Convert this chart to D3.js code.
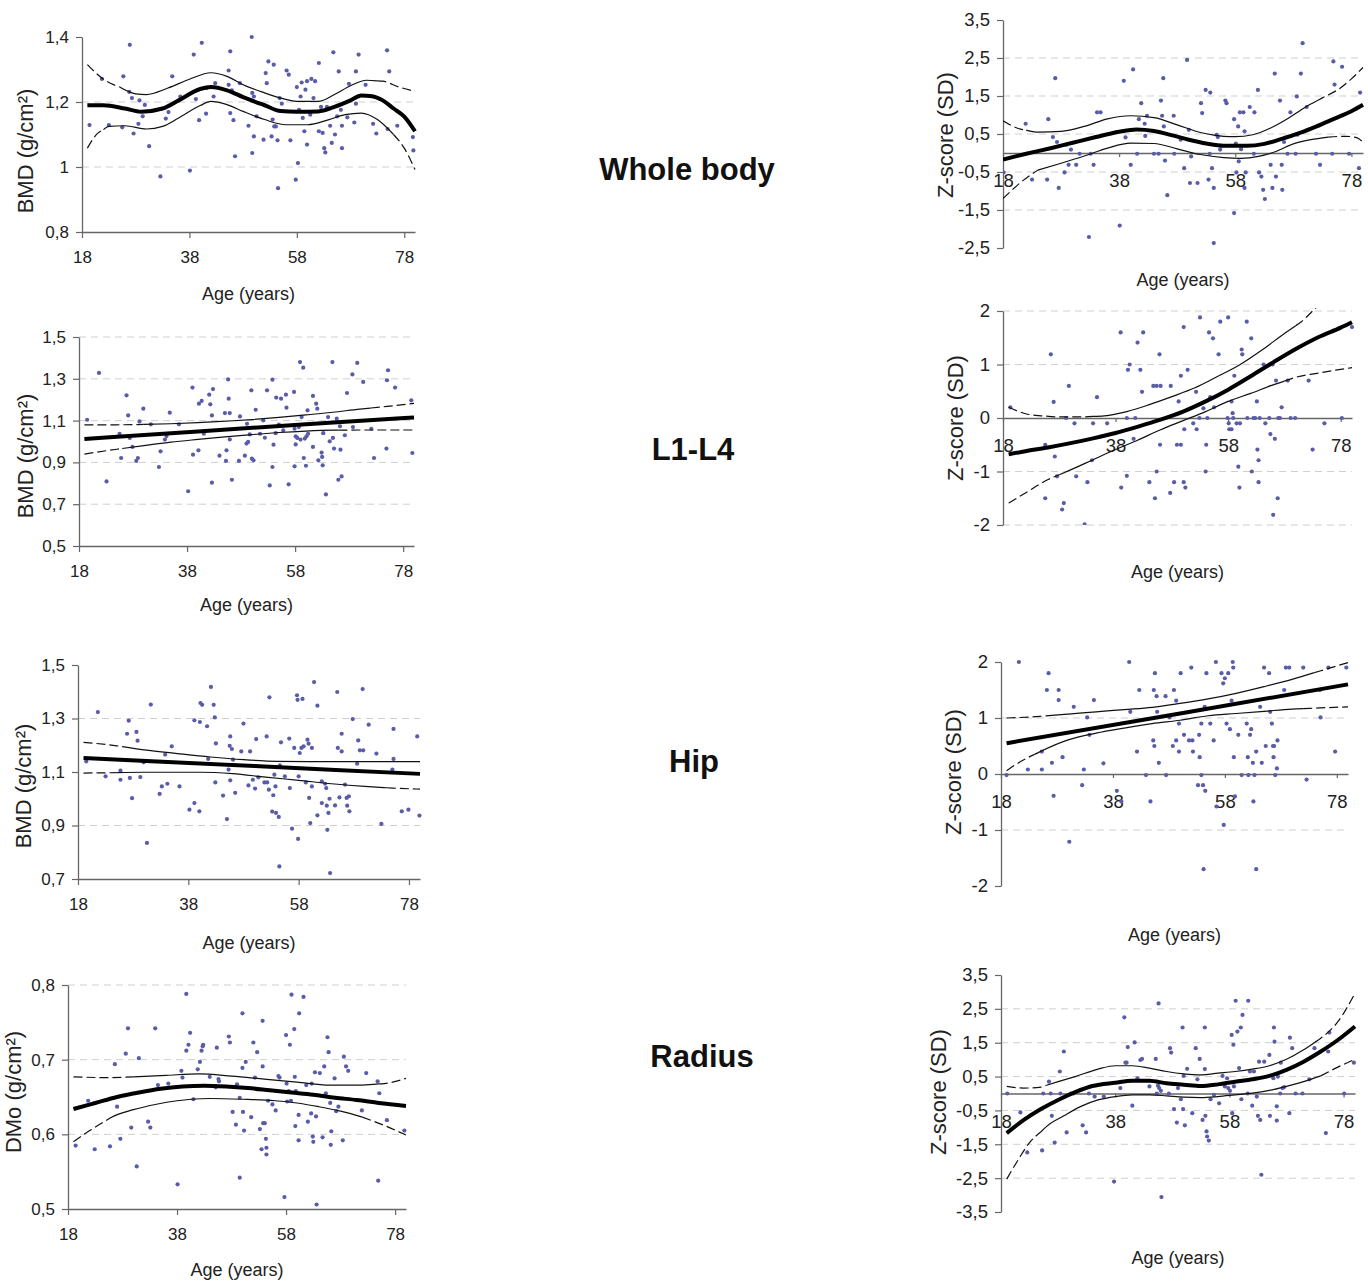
<!DOCTYPE html>
<html>
<head>
<meta charset="utf-8">
<script src="https://cdn.jsdelivr.net/npm/d3@7"></script>
<style>
  body { margin: 0; background: #fff; }
  svg { display: block; font-family: "Liberation Sans", Arial, sans-serif; }
</style>
</head>
<body>
<svg id="chart" width="1368" height="1283"></svg>
<script>
// ---- values: [age, value] ----
const ageTicks = [18, 38, 58, 78];
const sections = ["Whole body", "L1-L4", "Hip", "Radius"];

const wbBmdPoints = [[19.4,1.129],[21.7,1.271],[23.0,1.129],[25.7,1.279],[25.5,1.122],[26.9,1.376],[26.8,1.231],[27.3,1.212],[27.6,1.103],[28.7,1.205],[28.5,1.133],[29.3,1.156],[29.7,1.191],[30.5,1.064],[32.6,0.971],[33.6,1.149],[34.1,1.169],[34.8,1.279],[36.3,1.217],[38.1,0.989],[38.8,1.346],[39.2,1.209],[39.8,1.144],[40.3,1.382],[41.1,1.164],[41.2,1.243],[42.5,1.217],[42.8,1.258],[45.3,1.297],[45.6,1.356],[45.3,1.253],[45.6,1.166],[45.9,1.236],[46.2,1.144],[46.5,1.033],[47.4,1.258],[49.0,1.127],[49.6,1.4],[49.7,1.228],[50.0,1.217],[50.0,1.094],[49.7,1.043],[50.5,1.156],[51.8,1.084],[52.2,1.289],[52.4,1.258],[52.7,1.325],[53.3,1.094],[53.7,1.315],[53.5,1.146],[53.8,1.125],[54.1,1.125],[54.4,1.082],[54.5,0.935],[54.8,1.212],[55.2,1.195],[56.1,1.297],[56.5,1.284],[56.8,1.082],[57.8,0.961],[58.2,1.012],[58.0,1.246],[58.4,1.176],[58.7,1.217],[58.9,1.26],[59.1,1.151],[59.4,1.11],[59.6,1.238],[59.9,1.264],[59.9,1.069],[60.5,1.161],[60.7,1.271],[61.1,1.212],[61.4,1.264],[62.1,1.32],[62.1,1.11],[62.5,1.185],[62.8,1.105],[63.1,1.058],[63.3,1.045],[63.6,1.185],[64.2,1.127],[64.5,1.074],[64.8,1.353],[65.1,1.1],[65.5,1.156],[65.8,1.294],[66.2,1.176],[66.4,1.127],[66.4,1.058],[67.4,1.153],[67.7,1.256],[68.7,1.137],[69.0,1.294],[69.0,1.195],[69.5,1.346],[70.8,1.253],[72.2,1.133],[72.8,1.103],[74.8,1.359],[75.2,1.294],[74.9,1.117],[76.7,1.127],[79.6,1.092],[79.7,1.051]];
const wbBmdMean = [[19,1.19],[22,1.19],[26,1.18],[29,1.17],[33,1.18],[36,1.205],[40,1.24],[42,1.246],[45,1.236],[48,1.215],[52,1.19],[55,1.172],[58,1.17],[62,1.171],[65,1.185],[68,1.205],[70,1.22],[72,1.218],[74,1.205],[76,1.18],[78,1.155],[80,1.11]];
const wbBmdUpper = [[19,1.315],[22,1.27],[25,1.246],[28,1.225],[30,1.223],[34,1.243],[38,1.27],[42,1.29],[45,1.279],[48,1.253],[52,1.228],[55,1.212],[58,1.202],[62,1.202],[65,1.223],[68,1.25],[71,1.267],[74,1.264],[77,1.246],[80,1.233]];
const wbBmdLower = [[19,1.058],[21,1.105],[23,1.125],[26,1.127],[30,1.117],[33,1.125],[36,1.151],[40,1.189],[42,1.202],[45,1.192],[48,1.171],[52,1.146],[56,1.13],[60,1.13],[64,1.146],[67,1.161],[70,1.166],[73,1.146],[76,1.1],[78,1.058],[80,0.992]];

const wbZPoints = [[18.1,-0.51],[21.9,0.77],[23.0,-0.7],[25.6,-0.7],[25.8,0.89],[26.6,0.42],[27.0,1.97],[27.3,0.29],[27.6,-0.92],[28.6,-0.51],[28.9,0.22],[29.3,-0.31],[29.7,0.09],[30.6,-0.31],[31.2,-0.02],[32.8,-2.21],[33.1,-0.02],[33.6,-0.31],[34.2,1.07],[34.8,1.07],[38.1,-1.91],[38.8,1.9],[39.1,0.41],[40.0,-0.31],[40.4,2.2],[41.1,-0.02],[41.4,0.89],[41.8,1.31],[42.4,0.77],[42.5,0.45],[42.8,0.98],[44.0,-0.02],[44.8,-0.02],[45.2,1.38],[45.4,0.98],[45.6,1.97],[45.7,0.7],[45.9,-0.2],[46.3,-1.11],[47.4,0.98],[47.5,-0.02],[48.6,0.35],[49.2,-0.4],[49.7,2.45],[50.0,0.61],[50.2,-0.79],[50.4,-0.09],[51.5,-0.79],[52.1,1.31],[52.3,1.05],[52.9,1.66],[53.4,-0.7],[53.6,-0.02],[53.7,1.59],[54.0,-0.4],[54.3,-0.92],[54.3,-2.37],[54.8,0.48],[55.0,0.42],[55.4,0.09],[56.3,1.38],[56.5,1.31],[57.8,0.89],[57.8,-1.58],[58.1,0.25],[58.2,-0.51],[58.5,0.7],[58.6,-0.22],[58.8,1.07],[59.0,0.1],[59.4,1.07],[59.6,0.57],[59.6,-0.92],[59.8,-0.51],[60.5,1.21],[61.2,-0.02],[61.3,1.07],[61.9,1.66],[62.1,-0.51],[62.5,-0.62],[62.8,-0.97],[63.1,-1.21],[64.1,-0.31],[64.4,-0.92],[64.8,2.09],[65.0,-0.62],[65.7,1.38],[66.0,-0.31],[66.1,-0.97],[66.4,0.29],[67.0,-0.02],[67.5,1.07],[68.4,-0.02],[68.6,1.49],[68.7,0.48],[69.3,2.09],[69.6,2.89],[70.3,1.21],[71.9,-0.02],[72.6,-0.31],[74.7,-0.02],[74.9,2.41],[75.1,1.8],[76.4,2.27],[77.6,-0.02],[79.5,1.59],[79.3,-0.4]];
const wbZMean = [[18,-0.17],[22,-0.02],[26,0.12],[30,0.27],[34,0.42],[38,0.56],[41,0.62],[44,0.58],[47,0.47],[50,0.35],[53,0.25],[56,0.19],[60,0.19],[63,0.24],[66,0.37],[69,0.52],[72,0.7],[75,0.9],[78,1.1],[80,1.27]];
const wbZUpper = [[18,0.85],[21,0.63],[24,0.55],[28,0.57],[32,0.7],[36,0.9],[40,0.98],[44,0.93],[48,0.74],[52,0.54],[56,0.44],[58,0.43],[61,0.48],[64,0.65],[67,0.9],[70,1.2],[73,1.45],[76,1.7],[78,1.95],[80,2.25]];
const wbZLower = [[18,-1.2],[21,-0.78],[24,-0.45],[28,-0.27],[32,-0.08],[36,0.13],[40,0.26],[44,0.25],[48,0.11],[52,-0.04],[56,-0.12],[59,-0.14],[62,-0.09],[65,0.04],[68,0.24],[71,0.35],[74,0.42],[77,0.44],[79,0.4],[80,0.28]];

const spBmdPoints = [[19.5,1.104],[21.7,1.328],[23.1,0.809],[25.5,1.037],[25.8,0.921],[26.8,1.221],[27.1,1.125],[27.4,1.017],[27.9,0.974],[28.6,0.907],[28.9,0.921],[29.2,1.096],[29.9,1.157],[31.3,1.082],[32.8,0.878],[33.1,0.953],[33.9,1.009],[34.2,1.026],[34.8,1.138],[36.5,1.082],[38.2,0.762],[39.0,1.258],[39.1,0.937],[40.2,1.181],[40.7,1.194],[40.1,0.958],[41.1,1.037],[42.1,1.224],[42.3,1.178],[42.6,1.125],[42.8,1.251],[42.6,0.803],[44.0,0.932],[45.0,1.136],[45.2,0.907],[45.3,0.958],[45.6,1.297],[45.7,1.205],[45.9,1.136],[45.9,1.01],[46.3,0.817],[47.6,0.907],[47.8,1.12],[48.7,0.932],[49.0,0.99],[49.3,0.998],[49.1,1.085],[49.6,1.034],[49.9,1.245],[50.0,0.918],[50.3,0.91],[50.7,1.152],[51.5,1.037],[52.1,1.101],[52.4,1.018],[52.8,1.245],[53.3,0.79],[53.8,1.296],[53.8,0.878],[54.0,0.985],[54.4,1.04],[54.5,1.21],[55.0,1.081],[55.4,1.205],[55.8,1.053],[56.3,1.224],[56.4,1.162],[56.8,0.795],[57.8,1.237],[57.9,0.881],[57.9,1.061],[58.1,1.025],[58.1,0.986],[58.4,1.017],[58.7,1.069],[58.9,1.38],[59.0,1.009],[59.2,1.117],[59.5,1.353],[59.6,0.921],[59.8,1.014],[60.0,0.884],[60.1,1.025],[60.3,1.149],[60.4,1.037],[61.3,0.974],[61.3,1.218],[61.9,1.181],[62.1,1.157],[62.3,0.91],[62.9,0.947],[63.0,0.926],[63.1,0.886],[63.2,1.04],[63.7,0.747],[64.1,1.117],[64.4,1.001],[64.9,1.38],[65.0,1.017],[65.2,0.966],[65.7,1.109],[66.0,0.817],[66.3,1.073],[66.4,0.961],[66.6,0.833],[67.2,1.03],[67.6,1.232],[68.6,1.321],[68.7,1.069],[69.5,1.376],[70.6,1.285],[72.1,1.061],[72.6,0.921],[74.9,0.966],[75.0,1.293],[75.2,1.341],[76.5,1.258],[79.5,1.197],[79.7,0.945]];
const spBmdMean = [[19,1.012],[40,1.048],[60,1.083],[80,1.115]];
const spBmdUpper = [[19,1.08],[25,1.08],[30,1.082],[35,1.085],[40,1.09],[45,1.097],[50,1.105],[55,1.115],[60,1.127],[65,1.14],[70,1.155],[75,1.168],[80,1.182]];
const spBmdLower = [[19,0.94],[25,0.963],[30,0.98],[35,0.997],[40,1.01],[45,1.022],[50,1.033],[55,1.043],[60,1.05],[65,1.054],[70,1.055],[75,1.055],[80,1.055]];

const spZPoints = [[19.3,0.2],[25.5,-0.5],[25.5,-1.5],[26.5,1.19],[27.0,0.3],[27.2,-0.72],[27.6,-1.09],[28.5,-1.71],[28.8,-1.59],[29.2,0],[29.7,0.6],[30.7,-0.1],[31.0,-1.09],[32.5,-1.99],[33.0,-1.2],[33.8,-0.79],[34.0,-0.1],[34.7,0.39],[36.5,-0.1],[38.9,1.6],[39.0,-1.3],[40.0,0],[40.0,-1.08],[40.2,0.9],[40.5,1.0],[41.2,-0.39],[41.5,0],[41.9,1.41],[42.4,0.9],[42.7,0.49],[42.9,1.6],[44.0,-1.2],[44.7,0.6],[45.0,-1.5],[45.3,-1.0],[45.3,0.6],[45.8,1.19],[45.9,-0.5],[46.0,0.6],[47.7,-1.4],[47.8,0.6],[48.4,-1.2],[48.9,-0.5],[49.2,0.31],[49.6,-0.5],[49.6,0.79],[50.1,1.7],[50.1,-1.2],[50.4,-1.3],[50.2,-0.21],[50.8,0.9],[51.8,-0.1],[52.3,0.49],[52.4,-0.21],[52.9,0],[53.0,1.88],[53.6,0.18],[54.0,-1.0],[54.1,-0.5],[54.3,0],[54.6,1.6],[54.8,0.39],[55.3,1.49],[55.5,0.2],[56.3,1.19],[56.6,1.8],[57.9,0],[58.0,1.88],[58.1,-0.1],[58.2,-0.21],[58.6,-0.21],[58.6,0.31],[58.8,0.09],[58.9,0],[59.1,0.79],[59.5,-0.1],[59.8,-0.91],[60.0,-1.3],[60.1,-0.1],[60.4,1.28],[60.5,1.19],[61.3,1.8],[61.4,0],[62.1,1.49],[62.2,-1.0],[62.5,0],[62.8,0],[63.1,0.31],[63.2,-0.59],[63.4,-0.79],[63.4,-1.2],[63.6,0],[64.3,1.0],[64.6,-0.1],[65.3,0],[65.5,-0.3],[65.9,1.0],[66.0,-1.81],[66.3,-0.39],[66.5,0.7],[66.8,-1.5],[66.9,0],[67.2,0],[67.5,0.2],[68.6,0.7],[69.1,0],[69.9,0],[72.3,0.7],[73.0,-0.59],[75.1,-0.1],[78.2,0],[80.0,1.7]];
const spZMean = [[19,-0.68],[22,-0.62],[26,-0.55],[30,-0.47],[34,-0.38],[38,-0.28],[42,-0.16],[46,-0.03],[50,0.12],[54,0.31],[58,0.53],[62,0.78],[66,1.04],[70,1.29],[74,1.51],[78,1.69],[80,1.79]];
const spZUpper = [[19,0.2],[22,0.08],[25,0.04],[28,0.02],[32,0.02],[36,0.04],[40,0.12],[44,0.25],[48,0.4],[52,0.56],[56,0.77],[60,0.99],[64,1.27],[68,1.58],[71,1.8],[73,2.0],[75,2.2]];
const spZLower = [[19,-1.59],[22,-1.4],[26,-1.15],[30,-0.97],[34,-0.78],[38,-0.59],[42,-0.41],[46,-0.22],[50,-0.05],[54,0.12],[58,0.31],[62,0.46],[66,0.62],[70,0.76],[74,0.84],[78,0.91],[80,0.94]];

const hipBmdPoints = [[19.5,1.14],[21.6,1.324],[23.0,1.084],[25.7,1.105],[25.7,1.071],[26.9,1.243],[27.2,1.292],[27.4,1.078],[27.8,1.002],[28.6,1.25],[28.8,1.217],[29.3,1.081],[29.9,1.136],[30.5,0.835],[31.2,1.352],[32.8,1.018],[33.2,1.046],[33.8,1.165],[34.2,1.056],[35.0,1.196],[36.4,1.046],[38.2,0.959],[39.1,0.984],[39.1,1.293],[40.0,0.953],[40.1,1.287],[40.2,1.358],[40.5,1.351],[41.4,1.271],[41.6,1.149],[42.1,1.418],[42.6,1.351],[42.8,1.304],[42.9,1.061],[43.0,1.207],[44.3,1.012],[45.0,0.924],[45.3,1.109],[45.5,1.198],[45.6,1.069],[45.6,1.233],[45.9,1.186],[46.1,1.146],[46.5,1.022],[47.6,1.177],[48.0,1.281],[48.9,1.05],[49.2,1.177],[49.7,1.071],[50.1,1.038],[50.3,1.223],[50.7,1.08],[51.8,1.061],[52.2,1.233],[52.3,1.061],[52.6,1.034],[52.7,1.379],[53.2,0.952],[53.4,1.013],[53.6,1.09],[53.8,1.046],[53.9,0.947],[54.4,0.932],[54.5,0.747],[54.6,1.125],[54.8,1.211],[55.5,1.084],[56.3,1.225],[56.4,1.04],[56.8,0.888],[57.2,1.19],[57.7,1.387],[57.8,1.37],[57.9,0.85],[58.0,1.084],[58.2,1.171],[58.5,1.19],[58.7,1.373],[58.9,1.196],[59.3,1.061],[59.6,1.221],[59.8,1.206],[59.9,1.003],[60.1,0.909],[60.4,1.046],[60.4,1.19],[60.8,1.436],[61.4,1.348],[61.4,0.938],[62.2,0.984],[62.2,1.065],[62.8,1.056],[63.0,1.04],[63.1,0.974],[63.2,0.884],[63.4,0.947],[63.6,1.0],[63.7,0.722],[64.6,0.975],[65.0,1.399],[65.1,1.19],[65.4,1.005],[65.8,1.177],[65.8,1.243],[66.4,1.053],[66.7,1.003],[66.8,0.974],[67.1,1.009],[67.2,0.953],[67.8,1.298],[68.6,1.131],[68.8,1.218],[69.1,1.181],[69.7,1.181],[69.6,1.41],[70.7,1.277],[72.1,1.169],[73.0,0.906],[75.2,1.261],[75.2,1.149],[75.0,1.109],[76.7,0.953],[77.9,0.959],[79.5,1.233],[79.9,0.937]];
const hipBmdMean = [[19,1.152],[50,1.122],[80,1.093]];
const hipBmdUpper = [[19,1.211],[25,1.198],[30,1.183],[36,1.169],[42,1.156],[48,1.146],[54,1.14],[60,1.139],[68,1.139],[80,1.139]];
const hipBmdLower = [[19,1.096],[30,1.099],[40,1.099],[46,1.094],[52,1.081],[58,1.069],[64,1.056],[70,1.046],[75,1.04],[80,1.036]];

const hipZPoints = [[19.0,-0.02],[21.2,2.0],[22.8,0.08],[25.3,0.4],[25.3,0.08],[26.2,1.5],[26.5,1.8],[27.1,0.2],[27.4,-0.39],[28.3,1.5],[28.3,1.32],[29.0,0.3],[30.2,-1.21],[31.0,1.2],[32.5,-0.2],[32.8,0.08],[33.4,1.01],[33.8,0.7],[34.6,1.32],[36.3,0.19],[38.7,-0.3],[39.5,-0.49],[40.9,2.0],[41.1,1.11],[42.3,0.4],[42.7,1.5],[43.9,-0.02],[44.7,-0.49],[45.2,0.6],[45.3,1.5],[45.4,0.5],[45.5,1.8],[45.8,1.39],[45.9,1.11],[46.2,0.2],[47.4,1.39],[47.5,-0.02],[48.1,1.01],[48.7,0.5],[48.9,1.5],[49.3,0.6],[49.3,1.31],[49.8,0.4],[49.8,0.9],[50.1,1.8],[50.7,0.7],[51.6,0.6],[52.0,1.9],[52.2,0.6],[52.3,0.4],[53.2,-0.2],[53.4,0.7],[53.5,0.3],[53.8,0.9],[53.8,-0.02],[54.1,-0.2],[54.2,-1.7],[54.4,1.2],[54.5,-0.3],[54.7,1.8],[55.4,0.9],[56.0,0.6],[56.4,2.0],[56.5,-0.58],[57.4,1.8],[57.7,1.62],[57.8,-0.91],[58.0,1.71],[58.3,0.9],[58.6,1.8],[58.9,0.8],[59.2,1.31],[59.4,2.0],[59.5,1.9],[59.8,-0.4],[59.6,0.3],[60.4,0.7],[61.0,-0.02],[61.9,0.9],[62.1,0.3],[62.2,-0.02],[62.5,0.7],[62.7,0.8],[63.0,0.2],[63.1,-0.49],[63.3,-0.02],[63.6,0.4],[63.6,-1.7],[64.3,1.2],[64.6,0.2],[65.0,1.9],[65.3,0.5],[65.9,1.8],[66.1,1.11],[66.4,0.9],[66.6,0.5],[66.7,0.3],[66.8,0.5],[67.0,-0.02],[67.3,0.1],[67.4,0.6],[68.6,1.5],[68.9,1.9],[69.5,1.9],[72.0,1.9],[72.6,-0.1],[75.0,1.5],[75.1,1.01],[76.5,1.9],[77.7,0.4],[79.7,1.9]];
const hipZMean = [[19,0.55],[50,1.08],[80,1.6]];
const hipZUpper = [[19,1.0],[25,1.03],[30,1.07],[35,1.11],[40,1.15],[45,1.19],[50,1.26],[55,1.34],[60,1.44],[65,1.56],[70,1.69],[75,1.84],[80,1.99]];
const hipZLower = [[19,0.06],[22,0.25],[25,0.4],[30,0.61],[35,0.73],[40,0.82],[45,0.9],[50,0.96],[55,1.04],[60,1.08],[65,1.12],[70,1.16],[75,1.18],[80,1.2]];

const radBmdPoints = [[19.4,0.585],[21.7,0.645],[22.9,0.58],[25.7,0.584],[26.6,0.694],[27.0,0.637],[27.6,0.594],[28.6,0.708],[29.0,0.742],[29.6,0.609],[30.6,0.557],[31.0,0.702],[32.7,0.617],[33.1,0.609],[34.0,0.742],[34.5,0.666],[36.4,0.668],[38.1,0.533],[38.8,0.685],[39.0,0.676],[39.7,0.712],[39.7,0.788],[40.1,0.72],[40.4,0.736],[41.0,0.647],[41.8,0.687],[42.2,0.697],[42.5,0.712],[42.7,0.718],[42.8,0.72],[44.0,0.677],[45.1,0.663],[45.3,0.716],[45.6,0.674],[45.7,0.671],[47.5,0.731],[47.7,0.723],[48.2,0.63],[48.8,0.613],[49.0,0.667],[49.5,0.542],[49.5,0.649],[50.0,0.762],[50.0,0.689],[50.1,0.63],[50.3,0.605],[50.6,0.697],[51.6,0.623],[52.0,0.723],[52.3,0.676],[52.7,0.71],[53.2,0.607],[53.5,0.58],[53.7,0.752],[53.7,0.691],[53.8,0.615],[54.1,0.615],[54.3,0.594],[54.4,0.582],[54.4,0.573],[54.7,0.645],[55.5,0.64],[56.1,0.632],[56.6,0.678],[56.8,0.676],[57.7,0.516],[58.0,0.733],[58.1,0.668],[58.2,0.644],[58.5,0.658],[58.7,0.72],[58.9,0.645],[59.0,0.787],[59.5,0.741],[59.6,0.677],[59.7,0.611],[59.8,0.658],[60.3,0.626],[60.3,0.592],[60.4,0.762],[61.2,0.784],[61.7,0.666],[62.0,0.617],[62.6,0.628],[62.7,0.668],[62.9,0.597],[63.0,0.59],[63.3,0.683],[63.5,0.624],[63.6,0.506],[64.2,0.682],[64.7,0.596],[65.0,0.691],[65.3,0.655],[65.6,0.73],[65.8,0.71],[66.1,0.642],[66.2,0.586],[66.3,0.604],[66.9,0.675],[67.2,0.631],[67.6,0.637],[68.4,0.592],[68.6,0.704],[69.0,0.691],[69.4,0.685],[71.9,0.632],[72.7,0.682],[74.8,0.671],[74.9,0.538],[75.1,0.655],[76.5,0.619],[79.7,0.605]];
const radBmdMean = [[19,0.634],[23,0.642],[27,0.65],[31,0.656],[35,0.661],[39,0.664],[43,0.665],[47,0.664],[51,0.662],[55,0.659],[59,0.656],[63,0.653],[67,0.649],[71,0.646],[75,0.642],[80,0.638]];
const radBmdUpper = [[19,0.677],[25,0.676],[30,0.677],[36,0.679],[42,0.681],[48,0.678],[54,0.674],[60,0.67],[66,0.666],[72,0.666],[76,0.668],[80,0.675]];
const radBmdLower = [[19,0.59],[22,0.605],[26,0.623],[30,0.633],[34,0.64],[38,0.645],[44,0.648],[50,0.647],[56,0.645],[60,0.642],[64,0.637],[68,0.631],[72,0.623],[76,0.612],[80,0.599]];

const radZPoints = [[19.1,0],[21.4,-0.56],[22.6,-1.74],[25.2,-1.68],[25.4,0],[26.4,0.35],[26.7,0],[26.9,-0.66],[27.4,-1.45],[28.3,0.65],[28.4,0],[29.0,1.24],[29.5,-1.15],[30.2,0],[30.7,0],[32.3,-0.94],[32.9,-1.15],[33.4,0],[34.4,-0.09],[36.0,-0.09],[37.8,-2.6],[38.9,0.16],[39.6,2.25],[39.8,0.91],[40.0,0.91],[40.2,1.37],[41.0,-0.36],[41.4,1.51],[41.9,0.45],[42.4,0.99],[42.7,1.02],[44.0,0.21],[45.1,1.02],[45.3,0],[45.5,0.23],[45.6,2.66],[45.7,0.16],[46.0,0.08],[46.1,-3.06],[47.4,0],[47.6,1.34],[47.8,1.21],[48.3,-0.46],[48.8,-0.86],[49.0,0.16],[49.5,-0.17],[49.8,1.95],[49.9,-0.46],[50.0,0.52],[50.2,-0.94],[50.6,0.73],[51.5,-0.58],[52.1,1.34],[52.4,0.42],[52.8,1.02],[53.3,-0.78],[53.7,0.72],[53.7,1.95],[53.8,-0.66],[54.0,-1.12],[54.1,-1.27],[54.4,-1.39],[54.7,-0.17],[55.3,-0.04],[56.2,-0.29],[56.8,0.52],[57.2,0.21],[57.6,0.45],[57.8,0.16],[58.1,0.08],[58.4,1.73],[58.5,-0.58],[58.7,1.44],[58.8,0.21],[59.1,2.74],[59.4,1.83],[59.7,0.75],[60.0,1.95],[60.1,-0.17],[60.3,2.32],[61.2,0],[61.3,2.74],[61.6,0.65],[62.0,-0.36],[62.3,0.65],[62.8,-0.09],[63.0,-0.66],[63.2,0.94],[63.4,-0.78],[63.6,-2.4],[64.1,0.94],[65.0,1.14],[65.1,-0.66],[65.7,0.45],[65.8,1.95],[65.9,1.53],[66.3,-0.38],[66.3,-0.8],[66.5,0.5],[66.9,0],[67.0,0.91],[67.3,0.16],[67.6,0.19],[68.5,-0.58],[68.6,1.65],[69.0,1.34],[69.6,0],[70.8,0],[72.0,0.42],[72.9,1.34],[74.9,-1.17],[75.3,1.24],[75.5,1.8],[78.1,0],[79.8,0.91]];
const radZMean = [[19,-1.17],[22,-0.78],[25,-0.46],[28,-0.19],[31,0.04],[34,0.22],[38,0.32],[41,0.38],[44,0.38],[47,0.3],[50,0.26],[53,0.22],[56,0.27],[59,0.35],[62,0.42],[65,0.52],[68,0.7],[71,0.94],[74,1.24],[77,1.58],[80,1.98]];
const radZUpper = [[19,0.21],[22,0.16],[25,0.19],[28,0.35],[31,0.5],[35,0.72],[38,0.82],[41,0.82],[44,0.75],[47,0.65],[50,0.58],[53,0.55],[56,0.6],[59,0.65],[62,0.72],[65,0.82],[68,1.01],[71,1.29],[74,1.63],[77,2.12],[80,2.96]];
const radZLower = [[19,-2.53],[21,-1.96],[23,-1.45],[26,-0.97],[29,-0.66],[32,-0.38],[35,-0.19],[38,-0.09],[41,-0.04],[44,-0.04],[47,-0.07],[50,-0.11],[53,-0.12],[56,-0.09],[59,-0.04],[62,0.01],[65,0.09],[68,0.21],[71,0.35],[74,0.52],[77,0.78],[80,1.01]];

// ---- layout (pixels) ----
const bmdTitle = "BMD (g/cm²)";
const zTitle = "Z-score (SD)";

const panels = [
  { px: [82, 415], py: [232, 37], yDomain: [0.8, 1.4], yTicks: [0.8, 1, 1.2, 1.4], grid: [1, 1.2],
    zero: false, pts: wbBmdPoints, mean: wbBmdMean, upper: wbBmdUpper, lower: wbBmdLower,
    upSolid: [25, 73], loSolid: [22, 76], yTitle: bmdTitle, yTitlePos: [25, 151], xTitleY: 300 },
  { px: [1003, 1363], py: [248, 20], yDomain: [-2.5, 3.5], yTicks: [-2.5, -1.5, -0.5, 0.5, 1.5, 2.5, 3.5], grid: [2.5, 1.5, 0.5, -0.5, -1.5],
    zero: true, pts: wbZPoints, mean: wbZMean, upper: wbZUpper, lower: wbZLower,
    upSolid: [22, 72], loSolid: [24, 74], yTitle: zTitle, yTitlePos: [945, 135], xTitleY: 286 },
  { px: [79, 414], py: [546, 337], yDomain: [0.5, 1.5], yTicks: [0.5, 0.7, 0.9, 1.1, 1.3, 1.5], grid: [0.7, 0.9, 1.1, 1.3, 1.5],
    zero: false, pts: spBmdPoints, mean: spBmdMean, upper: spBmdUpper, lower: spBmdLower,
    upSolid: [30, 72], loSolid: [26, 66], yTitle: bmdTitle, yTitlePos: [25, 456], xTitleY: 611 },
  { px: [1003, 1352], py: [525, 311], yDomain: [-2, 2], yTicks: [-2, -1, 0, 1, 2], grid: [2, 1, -1, -2],
    zero: true, pts: spZPoints, mean: spZMean, upper: spZUpper, lower: spZLower,
    upSolid: [34, 70], loSolid: [28, 68], yTitle: zTitle, yTitlePos: [955, 418], xTitleY: 578 },
  { px: [78, 420], py: [879, 665], yDomain: [0.7, 1.5], yTicks: [0.7, 0.9, 1.1, 1.3, 1.5], grid: [0.9, 1.3],
    zero: false, pts: hipBmdPoints, mean: hipBmdMean, upper: hipBmdUpper, lower: hipBmdLower,
    upSolid: [26, 80], loSolid: [25, 74], yTitle: bmdTitle, yTitlePos: [23, 786], xTitleY: 949 },
  { px: [1001, 1348], py: [886, 662], yDomain: [-2, 2], yTicks: [-2, -1, 0, 1, 2], grid: [1, -1],
    zero: true, pts: hipZPoints, mean: hipZMean, upper: hipZUpper, lower: hipZLower,
    upSolid: [26, 74], loSolid: [24, 72], yTitle: zTitle, yTitlePos: [953, 772], xTitleY: 941 },
  { px: [68, 406], py: [1209, 985], yDomain: [0.5, 0.8], yTicks: [0.5, 0.6, 0.7, 0.8], grid: [0.6, 0.7, 0.8],
    zero: false, pts: radBmdPoints, mean: radBmdMean, upper: radBmdUpper, lower: radBmdLower,
    upSolid: [30, 75], loSolid: [25, 72], yTitle: "DMo (g/cm²)", yTitlePos: [13, 1092], xTitleY: 1276 },
  { px: [1001, 1355], py: [1212, 975], yDomain: [-3.5, 3.5], yTicks: [-3.5, -2.5, -1.5, -0.5, 0.5, 1.5, 2.5, 3.5], grid: [2.5, 1.5, 0.5, -0.5, -1.5, -2.5],
    zero: true, pts: radZPoints, mean: radZMean, upper: radZUpper, lower: radZLower,
    upSolid: [26, 73], loSolid: [25, 74], yTitle: zTitle, yTitlePos: [938, 1092], xTitleY: 1264 }
];
const sectionPos = [[687, 180], [693, 460], [694, 772], [702, 1067]];

const fmt = d => String(d).replace(".", ",");

const interp = (pts, a) => {
  for (let i = 0; i < pts.length - 1; i++) {
    const [x0, y0] = pts[i], [x1, y1] = pts[i + 1];
    if (a >= x0 && a <= x1) return y0 + (y1 - y0) * (a - x0) / (x1 - x0);
  }
  return pts[pts.length - 1][1];
};
const slice = (pts, a, b) => {
  const first = pts[0][0], last = pts[pts.length - 1][0];
  a = Math.max(a, first); b = Math.min(b, last);
  if (b <= a) return null;
  return [[a, interp(pts, a)], ...pts.filter(p => p[0] > a && p[0] < b), [b, interp(pts, b)]];
};

const svg = d3.select("#chart");

panels.forEach((p, i) => {
  const x = d3.scaleLinear().domain([18, 80]).range(p.px);
  const y = d3.scaleLinear().domain(p.yDomain).range(p.py);
  const g = svg.append("g");
  const tickFont = p.zero ? 18.5 : 17;

  g.append("clipPath").attr("id", "clip" + i)
    .append("rect")
    .attr("x", x(18)).attr("y", y(p.yDomain[1]) - 3)
    .attr("width", x(80) - x(18) + 4).attr("height", y(p.yDomain[0]) - y(p.yDomain[1]) + 3);

  // dashed grid
  g.selectAll(".grid").data(p.grid).join("line")
    .attr("x1", x(18)).attr("x2", x(80))
    .attr("y1", d => y(d)).attr("y2", d => y(d))
    .attr("stroke", "#cfcfcf").attr("stroke-dasharray", "7,5");

  // y axis
  const yAxis = g.append("g").attr("transform", `translate(${x(18)},0)`)
    .call(d3.axisLeft(y).tickValues(p.yTicks).tickFormat(fmt).tickSize(6).tickSizeOuter(0).tickPadding(7));

  // x axis: bottom for BMD, on the zero line for Z-scores
  const xAxis = g.append("g")
    .attr("transform", `translate(0,${p.zero ? y(0) : y(p.yDomain[0])})`)
    .call(d3.axisBottom(x).tickValues(ageTicks).tickSize(p.zero ? 4 : 6).tickSizeOuter(0).tickPadding(p.zero ? 17 : 13));

  [yAxis, xAxis].forEach(a => {
    a.select(".domain").attr("stroke", "#666").attr("stroke-width", 1.3);
    a.selectAll(".tick line").attr("stroke", "#666").attr("stroke-width", 1.2);
    a.selectAll("text").attr("font-size", tickFont).attr("fill", "#222")
      .attr("font-family", '"Liberation Sans", Arial, sans-serif');
  });

  const plot = g.append("g").attr("clip-path", `url(#clip${i})`);

  plot.selectAll("circle").data(p.pts).join("circle")
    .attr("cx", d => x(d[0])).attr("cy", d => y(d[1]))
    .attr("r", 2.1).attr("fill", "#5a5ca8");

  const line = d3.line().x(d => x(d[0])).y(d => y(d[1])).curve(d3.curveMonotoneX);

  [[p.upper, p.upSolid], [p.lower, p.loSolid]].forEach(([band, [a, b]]) => {
    const parts = [
      { d: slice(band, 0, a), dash: "9,4" },
      { d: slice(band, a, b), dash: null },
      { d: slice(band, b, 100), dash: "9,4" }
    ].filter(s => s.d);
    parts.forEach(s => {
      plot.append("path").attr("d", line(s.d))
        .attr("fill", "none").attr("stroke", "#111").attr("stroke-width", 1.2)
        .attr("stroke-dasharray", s.dash);
    });
  });

  plot.append("path").attr("d", line(p.mean))
    .attr("fill", "none").attr("stroke", "#000").attr("stroke-width", 4);

  g.append("text")
    .attr("x", (x(18) + x(80)) / 2).attr("y", p.xTitleY)
    .attr("text-anchor", "middle").attr("font-size", 18).attr("fill", "#222")
    .text("Age (years)");

  g.append("text")
    .attr("transform", `translate(${p.yTitlePos[0]},${p.yTitlePos[1]}) rotate(-90)`)
    .attr("text-anchor", "middle").attr("dy", "0.35em")
    .attr("font-size", 22).attr("fill", "#222")
    .text(p.yTitle);
});

svg.selectAll(".section").data(sections).join("text")
  .attr("x", (d, i) => sectionPos[i][0]).attr("y", (d, i) => sectionPos[i][1])
  .attr("text-anchor", "middle").attr("font-size", 31).attr("font-weight", "bold").attr("fill", "#111")
  .text(d => d);
</script>
</body>
</html>
